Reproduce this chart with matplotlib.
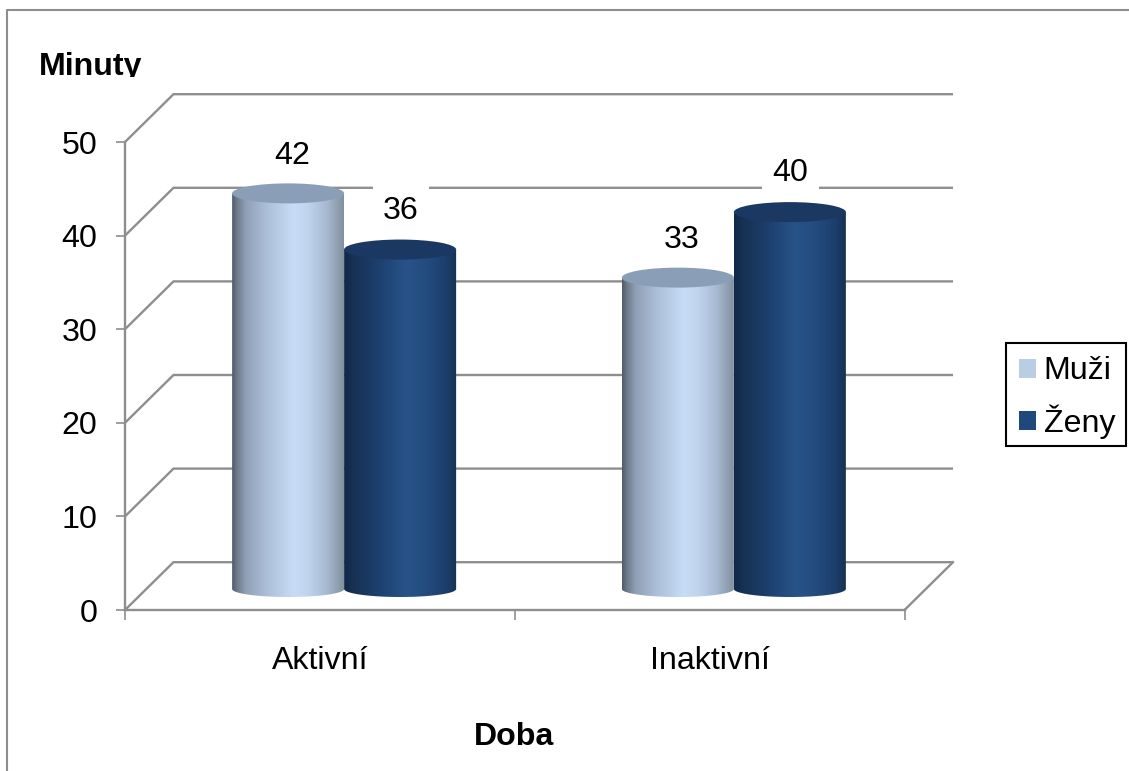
import numpy as np
import matplotlib
matplotlib.use("Agg")
import matplotlib.pyplot as plt
from matplotlib.colors import LinearSegmentedColormap
from matplotlib.patches import Ellipse, Patch, PathPatch, Rectangle
from matplotlib.path import Path
from matplotlib.transforms import Bbox

categories = ["Aktivní", "Inaktivní"]
series_names = ["Muži", "Ženy"]
muzi = [42, 33]
zeny = [36, 40]
y_ticks = [0, 10, 20, 30, 40, 50]

W, H = 1129, 771
GREY = "#8e8e8e"
FS = 23.1
plt.rcParams["font.family"] = ["Liberation Sans", "DejaVu Sans"]

fig = plt.figure(figsize=(W / 100, H / 100), dpi=100, facecolor="white")
ax = fig.add_axes([125 / W, 1 - 610 / H, (904.5 - 125) / W, (610 - 142) / H])

# Outer chart frame: only the top and left edges are visible
fig.add_artist(plt.Line2D([7 / W, 7 / W, 1], [0, 1 - 10 / H, 1 - 10 / H], color=GREY, lw=1.5))

XMAX, YMAX = 2.0, 50.0
ax.set_xlim(0, XMAX)
ax.set_ylim(0, YMAX)
px_x = XMAX / 779.5
px_y = YMAX / 468.0
DX, DY = 48.5 * px_x, 47.8 * px_y

# Back wall gridlines and the receding floor and side edges
for v in y_ticks:
    ax.plot([0, DX, XMAX + DX], [v, v + DY, v + DY], color=GREY, lw=1.7,
            clip_on=False, zorder=1, solid_capstyle="butt", solid_joinstyle="miter")
ax.plot([XMAX, XMAX + DX], [0, DY], color=GREY, lw=1.7, clip_on=False, zorder=1)

for side in ("top", "right"):
    ax.spines[side].set_visible(False)
for side in ("left", "bottom"):
    ax.spines[side].set_color(GREY)
    ax.spines[side].set_linewidth(1.7)
    ax.spines[side].set_zorder(2)

ax.set_yticks(y_ticks)
ax.set_xticks([0, 1, 2])
ax.set_xticklabels([])
ax.set_xticks([0.5, 1.5], categories, minor=True)
ax.tick_params(axis="y", length=6.5, width=1.2, color=GREY, labelsize=FS, pad=13.5)
ax.tick_params(axis="x", which="major", length=7, width=1.2, color=GREY)
ax.tick_params(axis="x", which="minor", length=0, labelsize=FS, pad=26)

light_cmap = LinearSegmentedColormap.from_list("light", [
    (0, "#4f5b6b"), (0.04, "#6b7888"), (0.12, "#8f9fb5"), (0.3, "#abbed7"),
    (0.55, "#c7dcf6"), (0.68, "#c0d4ee"), (0.85, "#a7b9d1"), (1, "#82919f")])
dark_cmap = LinearSegmentedColormap.from_list("dark", [
    (0, "#11284a"), (0.1, "#173355"), (0.3, "#1c3f6e"),
    (0.55, "#285389"), (0.72, "#244c7f"), (0.9, "#1c3f6d"), (1, "#173354")])
TOP_LIGHT, TOP_DARK = "#8b9eb7", "#1a3861"
GRADIENT = np.linspace(0, 1, 256)[None, :]

BAR_W = 112 * px_x
RY_TOP = 10.0 * px_y
RY_BASE = 8.0 * px_y


def cylinder(center, value, cmap, top_color):
    # Column stands halfway into the depth of the plot floor
    cx = center + DX / 2
    base = 21.0 * px_y
    top = value + 23.5 * px_y
    xl, xr = cx - BAR_W / 2, cx + BAR_W / 2
    t = np.linspace(np.pi, 2 * np.pi, 60)
    xs = np.r_[xl, xr, cx + BAR_W / 2 * np.cos(t)[::-1], xl]
    ys = np.r_[top, top, base + RY_BASE * np.sin(t)[::-1], top]
    outline = PathPatch(Path(np.c_[xs, ys]), transform=ax.transData, fc="none", ec="none")
    ax.add_patch(outline)
    img = ax.imshow(GRADIENT, cmap=cmap, extent=(xl, xr, base - RY_BASE, top), aspect="auto",
                    origin="lower", zorder=3, interpolation="bilinear")
    img.set_clip_path(outline)
    ax.add_patch(Ellipse((cx, top), BAR_W, 2 * RY_TOP, fc=top_color, ec="none", zorder=3.1, clip_on=False))
    ax.set_xlim(0, XMAX)
    ax.set_ylim(0, YMAX)


for i in range(len(categories)):
    cylinder(i + 0.5 - BAR_W / 2, muzi[i], light_cmap, TOP_LIGHT)
    cylinder(i + 0.5 + BAR_W / 2, zeny[i], dark_cmap, TOP_DARK)

# Value labels sit on white boxes that interrupt the gridlines
for i in range(len(categories)):
    for value, shift, off in ((muzi[i], -BAR_W / 2, (3, 27)), (zeny[i], BAR_W / 2, (0.5, 28))):
        ax.annotate(str(value), (i + 0.5 + shift + DX / 2, value + 23.5 * px_y),
                    xytext=off, textcoords="offset points", ha="center", va="center",
                    fontsize=FS, color="black", zorder=2.5, annotation_clip=False,
                    bbox=dict(boxstyle="square,pad=0.32", fc="white", ec="none"))

# Axis titles
minuty = fig.text(39 / W, 1 - 75 / H, "Minuty", fontsize=FS, fontweight="bold", ha="left", va="baseline")
minuty.set_clip_box(Bbox([[0, H - 77], [300, H]]))
minuty.set_clip_on(True)
fig.text(514.5 / W, 1 - 745 / H, "Doba", fontsize=FS, fontweight="bold", ha="center", va="baseline")

# Legend entries on a separately sized black box
fig.add_artist(Rectangle((1006 / W, 1 - 446 / H), 120 / W, 103 / H, transform=fig.transFigure,
                         fc="white", ec="black", lw=1.5))
handles = [Patch(fc="#b9cde5", ec="none"), Patch(fc="#1f497d", ec="none")]
legend = fig.legend(handles, series_names, loc="upper left",
                    bbox_to_anchor=(1006 / W, 1 - 343 / H), bbox_transform=fig.transFigure,
                    fontsize=FS, frameon=False, handlelength=0.53, handleheight=0.53,
                    handletextpad=0.22, labelspacing=0.55, borderpad=0.42, borderaxespad=0,
                    labelcolor="black")

fig.savefig("out.png", dpi=100, facecolor="white")
